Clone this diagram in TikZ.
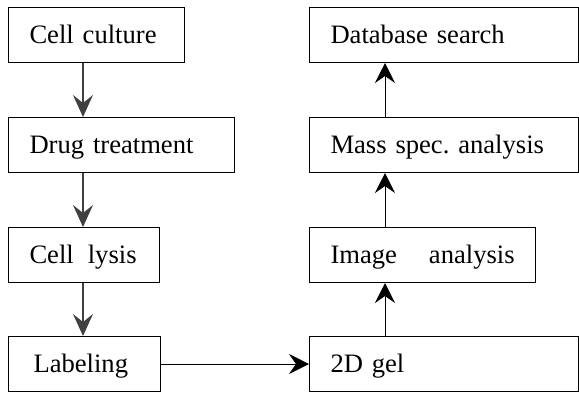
\documentclass[tikz,border=0pt]{standalone}
\usepackage{fontspec}
\setmainfont{Liberation Serif}
\usetikzlibrary{arrows.meta}
\tikzset{
  stepbox/.style={draw, line width=0.5pt, anchor=north west, align=left,
    minimum height=27.5pt, inner xsep=10.5pt, inner ysep=0pt,
    text height=8.8pt, text depth=0pt,
    font=\fontsize{13.3}{16}\selectfont},
  downarrow/.style={draw=black!75, line width=0.8pt,
    -{Stealth[length=11pt, width=10pt, inset=4pt]}},
  uparrow/.style={draw=black, line width=0.5pt,
    -{Stealth[length=10pt, width=10pt, inset=3.5pt]}}
}
\begin{document}
\begin{tikzpicture}
  \useasboundingbox (0,0) rectangle (289.5pt,-196pt);
  % left column
  \node[stepbox, text width=67pt] at (4pt,-3.5pt) (culture) {Cell culture};
  \node[stepbox, text width=92pt] at (4pt,-58.5pt) (drug) {Drug treatment};
  \node[stepbox, text width=54.5pt] at (4pt,-113.5pt) (lysis) {\mbox{Cell\hspace{7pt}lysis}};
  \node[stepbox, text width=55pt] at (4pt,-168pt) (label) {\hspace{2pt}Labeling};
  % right column
  \node[stepbox, text width=113.5pt] at (154.5pt,-168pt) (gel) {2D gel};
  \node[stepbox, text width=92pt] at (154.5pt,-113.5pt) (image) {\mbox{Image\hspace{16pt}analysis}};
  \node[stepbox, text width=113.5pt] at (154.5pt,-58.5pt) (mass) {Mass spec.\ analysis};
  \node[stepbox, text width=113.5pt] at (154.5pt,-3.5pt) (search) {Database search};
  \coordinate (lx) at (41.5pt,0);
  \coordinate (rx) at (192.5pt,0);
  % arrows
  \draw[downarrow] (culture.south -| lx) -- (drug.north -| lx);
  \draw[downarrow] (drug.south -| lx) -- (lysis.north -| lx);
  \draw[downarrow] (lysis.south -| lx) -- (label.north -| lx);
  \draw[uparrow] (label.east) -- (gel.west |- label.east);
  \draw[uparrow] (gel.north -| rx) -- (image.south -| rx);
  \draw[uparrow] (image.north -| rx) -- (mass.south -| rx);
  \draw[uparrow] (mass.north -| rx) -- (search.south -| rx);
\end{tikzpicture}
\end{document}
